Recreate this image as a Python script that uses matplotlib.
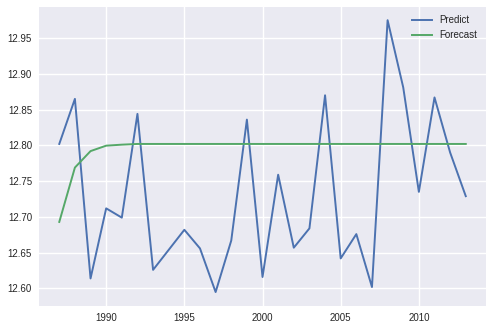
import matplotlib
matplotlib.use('Agg')
import matplotlib.pyplot as plt

# Data
years = list(range(1987, 2014))
predict = [12.802, 12.865, 12.614, 12.712, 12.699, 12.844, 12.626, 12.654, 12.682,
           12.656, 12.595, 12.667, 12.836, 12.616, 12.759, 12.657, 12.684, 12.870,
           12.642, 12.676, 12.602, 12.975, 12.881, 12.735, 12.867, 12.790, 12.729]
forecast = [12.693, 12.769, 12.792, 12.7996, 12.801, 12.802, 12.802, 12.802, 12.802,
            12.802, 12.802, 12.802, 12.802, 12.802, 12.802, 12.802, 12.802, 12.802,
            12.802, 12.802, 12.802, 12.802, 12.802, 12.802, 12.802, 12.802, 12.802]

plt.rcParams['font.family'] = ['Liberation Sans', 'DejaVu Sans']

fig = plt.figure(figsize=(4.93, 3.29), dpi=100)
ax = fig.add_axes([0.079, 0.071, 0.907, 0.909])
ax.set_facecolor('#EAEAF2')
for s in ax.spines.values():
    s.set_visible(False)
ax.grid(True, color='white', linewidth=1.0)
ax.set_axisbelow(True)

ax.plot(years, predict, color='#4C72B0', linewidth=1.4, label='Predict')
ax.plot(years, forecast, color='#55A868', linewidth=1.4, label='Forecast')

ax.set_xticks([1990, 1995, 2000, 2005, 2010])
ax.yaxis.set_major_formatter(matplotlib.ticker.FormatStrFormatter('%.2f'))
ax.tick_params(length=0, labelsize=7, labelcolor='#262626', pad=5)

ax.legend(loc='upper right', frameon=False, fontsize=7, labelcolor='#262626')

fig.savefig('out.png', dpi=100)
